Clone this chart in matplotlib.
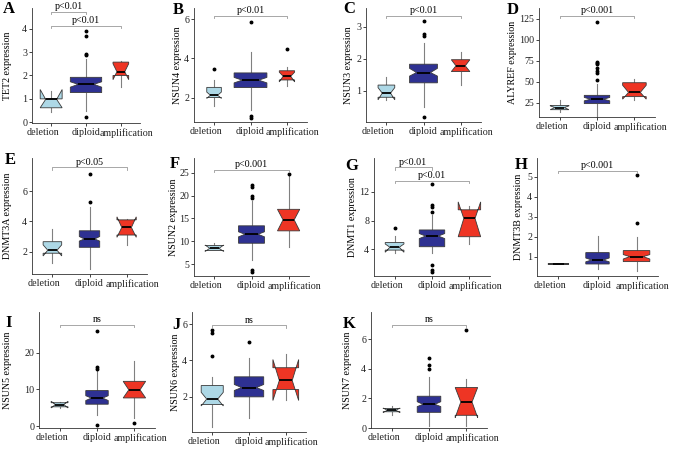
import matplotlib
matplotlib.use("Agg")
import matplotlib.pyplot as plt
from matplotlib.transforms import ScaledTranslation

plt.rcParams['font.family'] = ['Liberation Serif', 'DejaVu Serif']

#%% data
groups = ["deletion", "diploid", "amplification"]
genes = ["TET2", "NSUN4", "NSUN3", "ALYREF", "DNMT3A", "NSUN2",
         "DNMT1", "DNMT3B", "NSUN5", "NSUN6", "NSUN7"]
letters = ["A", "B", "C", "D", "E", "F", "G", "H", "I", "J", "K"]

# per group: (whisker low, q1, notch low, median, notch high, q3, whisker high)
tet2 = [(0.45, 0.62, 0.62, 0.98, 1.40, 1.00, 1.33),
        (0.50, 1.27, 1.50, 1.62, 1.73, 1.92, 2.70),
        (1.52, 2.00, 1.82, 2.16, 2.50, 2.57, 2.62)]
tet2_out = [[], [3.90, 3.70, 2.90, 2.87, 0.22], []]

nsun4 = [(1.56, 2.00, 1.96, 2.12, 2.28, 2.52, 2.89),
         (1.35, 2.51, 2.75, 2.89, 3.03, 3.26, 4.34),
         (2.58, 2.90, 2.80, 3.09, 3.30, 3.37, 3.55)]
nsun4_out = [[3.44], [5.88, 1.04, 0.97], [4.46]]

nsun3 = [(0.72, 0.80, 0.72, 0.93, 1.10, 1.18, 1.42),
         (0.50, 1.25, 1.46, 1.57, 1.70, 1.83, 2.50),
         (1.18, 1.60, 1.60, 1.78, 1.97, 1.97, 2.22)]
nsun3_out = [[], [3.19, 2.76, 2.72, 0.19], []]

alyref = [(14, 17, 17, 19.5, 21.5, 22, 29),
          (10, 24.2, 27.5, 29.4, 31.5, 34, 48),
          (28, 32.5, 29.5, 37.5, 46, 49, 53)]
alyref_out = [[], [120.5, 74, 72.5, 71, 66, 63, 60, 52, 6.3], []]

dnmt3a = [(1.27, 1.90, 1.72, 2.10, 2.45, 2.66, 3.50),
          (0.84, 2.29, 2.70, 2.84, 3.00, 3.38, 4.92),
          (2.44, 3.10, 2.95, 3.60, 4.30, 4.10, 4.15)]
dnmt3a_out = [[], [5.30, 7.15], []]

nsun2 = [(7.8, 8.0, 7.8, 8.5, 9.2, 9.1, 9.6),
         (5.9, 9.6, 11.0, 11.55, 12.1, 13.4, 18.9),
         (8.85, 12.3, 12.3, 14.7, 17.0, 17.0, 24.2)]
nsun2_out = [[], [19.5, 20.0, 21.8, 22.4, 3.7, 3.4], [24.6]]

dnmt1 = [(3.54, 3.90, 3.60, 4.30, 4.75, 4.95, 5.85),
         (3.44, 4.37, 5.50, 5.85, 6.20, 6.70, 8.77),
         (4.80, 5.76, 5.76, 8.30, 10.6, 9.50, 10.0)]
dnmt1_out = [[7.0], [9.2, 9.9, 10.1, 13.1, 1.8, 1.2, 0.8], []]

dnmt3b = [(0.62, 0.62, 0.62, 0.63, 0.64, 0.64, 0.64),
          (0.37, 0.63, 0.74, 0.83, 0.93, 1.20, 2.03),
          (0.30, 0.75, 0.88, 1.00, 1.10, 1.30, 1.97)]
dnmt3b_out = [[], [], [2.7, 5.1]]

nsun5 = [(5.0, 5.3, 5.0, 5.9, 6.8, 6.4, 6.6),
         (3.15, 6.0, 7.0, 7.66, 8.3, 9.7, 15.3),
         (2.25, 7.7, 7.7, 9.9, 12.2, 12.2, 17.6)]
nsun5_out = [[], [15.6, 16.0, 25.9, 0.3], [1.0]]

nsun6 = [(0.35, 1.58, 1.50, 1.88, 2.25, 2.62, 3.10),
         (0.86, 2.00, 2.35, 2.51, 2.68, 3.10, 4.11),
         (1.85, 2.40, 1.80, 2.90, 4.05, 3.60, 4.38)]
nsun6_out = [[4.22, 5.48, 5.67], [4.99], []]

nsun7 = [(0.85, 1.10, 1.05, 1.20, 1.35, 1.32, 1.50),
         (0.11, 1.06, 1.45, 1.60, 1.78, 2.15, 3.46),
         (0.11, 0.86, 0.70, 1.76, 2.74, 2.74, 3.32)]
nsun7_out = [[], [3.98, 4.25, 4.75], [6.63]]

all_stats = [tet2, nsun4, nsun3, alyref, dnmt3a, nsun2, dnmt1, dnmt3b, nsun5, nsun6, nsun7]
all_out = [tet2_out, nsun4_out, nsun3_out, alyref_out, dnmt3a_out, nsun2_out,
           dnmt1_out, dnmt3b_out, nsun5_out, nsun6_out, nsun7_out]

yticks = [[0, 1, 2, 3, 4], [2, 4, 6], [1, 2, 3], [25, 50, 75, 100, 125],
          [2, 4, 6], [5, 10, 15, 20, 25], [4, 8, 12], [1, 2, 3, 4, 5],
          [0, 10, 20], [2, 4, 6], [0, 2, 4, 6]]

# comparisons: (group a, group b, label)
comparisons = [[(1, 2, "p<0.01"), (1, 3, "p<0.01")],
               [(1, 3, "p<0.01")],
               [(1, 3, "p<0.01")],
               [(1, 3, "p<0.001")],
               [(1, 3, "p<0.05")],
               [(1, 3, "p<0.001")],
               [(1, 2, "p<0.01"), (1, 3, "p<0.01")],
               [(1, 3, "p<0.001")],
               [(1, 3, "ns")],
               [(1, 3, "ns")],
               [(1, 3, "ns")]]

#%% layout (pixels)
W, H = 676, 449
# left spine, top, right, bottom
boxes = [(32, 8, 140, 123), (194, 8, 307, 122), (366, 8, 481, 122), (539, 8, 655, 117),
         (32, 158, 147, 274), (194, 158, 309, 276), (374, 158, 490, 276), (537, 158, 658, 276),
         (39, 312, 155, 428), (192, 312, 306, 432), (371, 312, 487, 428)]
ylims = [(-0.03, 4.88), (0.75, 6.58), (0.03, 3.58), (8.3, 137.7),
         (0.53, 8.18), (2.45, 28.2), (0.3, 16.7), (0.03, 5.93),
         (-0.45, 31.0), (0.07, 6.66), (0.0, 7.85)]
bracket_y = [[4.73, 4.13], [6.17], [3.34], [128.6], [7.56], [25.6],
             [15.4, 13.5], [5.3], [27.5], [5.94], [6.97]]
widths = [[0.63, 0.9, 0.45], [0.4, 0.9, 0.42], [0.45, 0.75, 0.5], [0.5, 0.68, 0.63],
          [0.5, 0.55, 0.52], [0.5, 0.7, 0.6], [0.5, 0.68, 0.6], [0.54, 0.6, 0.68],
          [0.45, 0.6, 0.6], [0.6, 0.8, 0.7], [0.45, 0.63, 0.6]]
fs = 7.2
letter_xy = [(3, 1), (173, 2), (343, 1), (507, 2), (5, 152), (170, 156), (345, 158),
             (515, 157), (5, 315), (172, 317), (343, 316)]
ylabel_x = [12, 182, 353, 517, 12, 178, 357, 523, 12, 180, 352]

colors = ["#add8e6", "#2e3192", "#ee3524"]

fig = plt.figure(figsize=(W / 100, H / 100), dpi=100)

for i in range(len(genes)):
    l, t, r, b = boxes[i]
    ax = fig.add_axes([l / W, 1 - b / H, (r - l) / W, (b - t) / H])

    stats = [dict(whislo=s[0], q1=s[1], cilo=s[2], med=s[3], cihi=s[4], q3=s[5],
                  whishi=s[6], fliers=o) for s, o in zip(all_stats[i], all_out[i])]
    bp = ax.bxp(stats, positions=[1, 2, 3], widths=widths[i], shownotches=True,
                patch_artist=True, showcaps=False,
                boxprops=dict(edgecolor="#3a3a3a", linewidth=0.6),
                whiskerprops=dict(color="#808080", linewidth=0.8),
                medianprops=dict(color="black", linewidth=1.3),
                flierprops=dict(marker="o", markerfacecolor="black",
                                markeredgecolor="black", markersize=1.8,
                                linestyle="none"))
    for patch, c in zip(bp["boxes"], colors):
        patch.set_facecolor(c)
    for w in bp["whiskers"]:
        w.set_zorder(1)

    ax.set_xlim(0.45, 3.55)
    ax.set_ylim(*ylims[i])
    ax.set_xticks([1, 2, 3])
    ax.set_xticklabels(groups)
    ax.set_yticks(yticks[i])
    ax.tick_params(labelsize=fs, length=2, width=0.6, pad=1.5, colors="#222222")
    # spread the long category labels apart a bit
    for lab, dx in zip(ax.get_xticklabels(), [-8, 0, 6]):
        lab.set_transform(lab.get_transform() + ScaledTranslation(dx / 100, 0, fig.dpi_scale_trans))
    for sp in ["top", "right"]:
        ax.spines[sp].set_visible(False)
    for sp in ["left", "bottom"]:
        ax.spines[sp].set_linewidth(0.6)
        ax.spines[sp].set_color("#333333")

    ax.set_ylabel(genes[i] + " expression", fontsize=fs)
    ax.yaxis.set_label_coords((ylabel_x[i] - l) / (r - l), 0.5)

    # significance brackets
    span = ylims[i][1] - ylims[i][0]
    for (g1, g2, lab), y in zip(comparisons[i], bracket_y[i]):
        d = span * 0.02
        ax.plot([g1, g1, g2, g2], [y - d, y, y, y - d], color="#999999",
                lw=0.6, clip_on=False)
        ax.text((g1 + g2) / 2, y + span * 0.005, lab, ha="center", va="bottom",
                fontsize=fs)

    fig.text(letter_xy[i][0] / W, 1 - letter_xy[i][1] / H, letters[i],
             fontsize=12, fontweight="bold", ha="left", va="top")

fig.savefig("out.png", dpi=100)
